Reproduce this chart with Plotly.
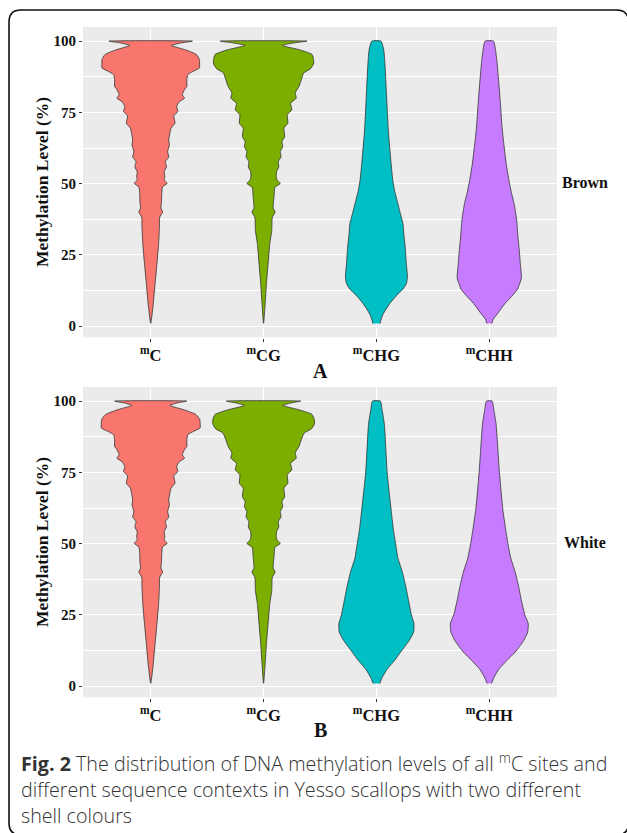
import plotly.graph_objects as go

W, H = 627, 833

# ---------------- data ----------------
categories = ["mC", "mCG", "mCHG", "mCHH"]
tick_text = ["<sup>m</sup>C", "<sup>m</sup>CG", "<sup>m</sup>CHG", "<sup>m</sup>CHH"]
colors = ["#F8766D", "#7CAE00", "#00BFC4", "#C77CFF"]
y_ticks = [0, 25, 50, 75, 100]
y_minor = [12.5, 37.5, 62.5, 87.5]
panel_labels = ["A", "B"]
strip_labels = ["Brown", "White"]
y_title = "Methylation Level (%)"
caption_lines = [
    "<b>Fig. 2</b> The distribution of DNA methylation levels of all <sup>m</sup>C sites and",
    "different sequence contexts in Yesso scallops with two different",
    "shell colours",
]

# violin outlines: methylation level (%) and violin width (category units)
# Panel A (Brown)
level_mc_a = [1, 7.8, 14.8, 21.8, 28.9, 34.7, 38.3, 40, 41.5, 43, 46.5, 48.9, 50.1, 51.3, 52.4,
              54.2, 55.9, 57.7, 59.4, 61.2, 63.6, 65.3, 67.7, 69.5, 71.2, 73.8, 75.3, 77.1, 78.8,
              80, 81.2, 83, 84.2, 86.5, 88.3, 89.4, 90.6, 92, 93.5, 95.3, 96.9, 98.5, 99.4, 100]
width_mc_a = [0, 0.045, 0.077, 0.11, 0.14, 0.155, 0.16, 0.21, 0.18, 0.19, 0.195, 0.21, 0.29, 0.24,
              0.25, 0.24, 0.28, 0.26, 0.32, 0.30, 0.33, 0.32, 0.34, 0.36, 0.43, 0.41, 0.48, 0.46,
              0.51, 0.60, 0.56, 0.60, 0.64, 0.64, 0.66, 0.75, 0.865, 0.865, 0.865, 0.81, 0.62,
              0.37, 0.55, 0.74]
level_mcg_a = [1, 7.8, 14.8, 21.8, 28.9, 33.6, 38.3, 40, 41.5, 45.4, 48.7, 50.1, 51.3, 52.4, 54.2,
               55.9, 57.7, 59.4, 61.2, 63, 64.7, 66.5, 69.5, 71.2, 74.2, 75.9, 78.2, 80, 81.8, 84.2,
               86.5, 88.8, 90.3, 92, 93.5, 95.3, 96.9, 98.5, 99.4, 100]
width_mcg_a = [0, 0.027, 0.05, 0.08, 0.11, 0.145, 0.155, 0.205, 0.17, 0.185, 0.20, 0.295, 0.24,
               0.225, 0.23, 0.27, 0.26, 0.31, 0.295, 0.34, 0.325, 0.375, 0.36, 0.43, 0.42, 0.50,
               0.48, 0.58, 0.56, 0.63, 0.67, 0.71, 0.83, 0.886, 0.886, 0.86, 0.65, 0.33, 0.55, 0.77]
level_chg_a = [1, 2.5, 4.3, 7.8, 11.3, 13, 14.9, 17.2, 21.9, 27.8, 31.3, 36, 38.3, 43, 47.7, 51.2,
               57.1, 68.8, 80.6, 92.3, 96.9, 100]
width_chg_a = [0.065, 0.085, 0.12, 0.23, 0.38, 0.47, 0.53, 0.55, 0.53, 0.51, 0.49, 0.47, 0.44,
               0.38, 0.32, 0.29, 0.26, 0.21, 0.18, 0.15, 0.13, 0.08]
level_chh_a = [1, 2.5, 4, 8, 11, 13, 15, 17, 22, 27, 31, 36, 38, 43, 47, 51, 57, 69, 80, 92, 97, 100]
width_chh_a = [0.045, 0.07, 0.13, 0.28, 0.42, 0.50, 0.54, 0.57, 0.55, 0.53, 0.51, 0.49, 0.48,
               0.44, 0.39, 0.35, 0.30, 0.23, 0.19, 0.14, 0.11, 0.074]

# Panel B (White)
level_mc_b = [1, 7.8, 14.8, 21.8, 28.9, 34.7, 38.3, 40, 41.5, 43, 46.5, 48.9, 50.1, 51.3, 52.4,
              54.2, 55.9, 57.7, 59.4, 61.2, 63.6, 65.3, 67.7, 69.5, 71.2, 73.8, 75.3, 77.1, 78.8,
              80, 81.2, 83, 84.2, 86.5, 88.3, 89.4, 90.6, 92, 93.5, 95.3, 96.9, 98.5, 99.4, 100]
width_mc_b = [0, 0.045, 0.077, 0.11, 0.14, 0.155, 0.16, 0.21, 0.18, 0.19, 0.195, 0.21, 0.29, 0.24,
              0.25, 0.24, 0.28, 0.26, 0.32, 0.30, 0.33, 0.32, 0.34, 0.36, 0.43, 0.41, 0.48, 0.46,
              0.51, 0.60, 0.56, 0.60, 0.64, 0.64, 0.66, 0.76, 0.876, 0.876, 0.87, 0.80, 0.60,
              0.34, 0.48, 0.64]
level_mcg_b = [1, 7.8, 14.8, 21.8, 28.9, 33.6, 38.3, 40, 41.5, 45.4, 48.7, 50.1, 51.3, 52.4, 54.2,
               55.9, 57.7, 59.4, 61.2, 63, 64.7, 66.5, 69.5, 71.2, 74.2, 75.9, 78.2, 80, 81.8, 84.2,
               86.5, 88.8, 90.3, 92, 93.5, 95.3, 96.9, 98.5, 99.4, 100]
width_mcg_b = [0, 0.027, 0.05, 0.08, 0.11, 0.145, 0.155, 0.205, 0.17, 0.185, 0.20, 0.295, 0.24,
               0.225, 0.23, 0.27, 0.26, 0.31, 0.295, 0.34, 0.325, 0.375, 0.36, 0.43, 0.42, 0.50,
               0.48, 0.58, 0.56, 0.63, 0.67, 0.72, 0.85, 0.90, 0.90, 0.86, 0.64, 0.34, 0.50, 0.66]
level_chg_b = [1, 3, 6, 9, 12, 16, 19, 22, 25, 30, 35, 40, 45, 50, 55, 62, 75, 92, 97, 100]
width_chg_b = [0.06, 0.10, 0.19, 0.32, 0.43, 0.58, 0.66, 0.665, 0.62, 0.57, 0.52, 0.46, 0.38,
               0.34, 0.30, 0.26, 0.19, 0.14, 0.10, 0.07]
level_chh_b = [1, 3, 6, 9, 12, 16, 19, 22, 25, 30, 35, 40, 45, 50, 55, 62, 75, 92, 97, 100]
width_chh_b = [0.04, 0.08, 0.17, 0.31, 0.46, 0.61, 0.68, 0.69, 0.63, 0.57, 0.52, 0.46, 0.38,
               0.33, 0.29, 0.24, 0.18, 0.12, 0.08, 0.05]

panel_levels = [[level_mc_a, level_mcg_a, level_chg_a, level_chh_a],
                [level_mc_b, level_mcg_b, level_chg_b, level_chh_b]]
panel_widths = [[width_mc_a, width_mcg_a, width_chg_a, width_chh_a],
                [width_mc_b, width_mcg_b, width_chg_b, width_chh_b]]

# ---------------- layout helpers ----------------
def fx(px):
    return px / W

def fy(py):
    return 1 - py / H

SERIF = "Liberation Serif, Times New Roman, serif"
SANS = "Open Sans, Noto Sans, sans-serif"

x_dom = [fx(83), fx(557)]
y_doms = [[fy(337.5), fy(27)], [fy(697.5), fy(387)]]

fig = go.Figure()

for p in range(2):
    xa = "x" if p == 0 else "x2"
    ya = "y" if p == 0 else "y2"
    for i in range(4):
        lev = panel_levels[p][i]
        wid = panel_widths[p][i]
        c = i + 1
        xs = [c - w / 2 for w in wid] + [c + w / 2 for w in wid[::-1]]
        ys = list(lev) + list(lev[::-1])
        fig.add_trace(go.Scatter(
            x=xs, y=ys, mode="lines", fill="toself", fillcolor=colors[i],
            line=dict(color="#333333", width=0.8, shape="spline", smoothing=0.5),
            xaxis=xa, yaxis=ya, showlegend=False, hoverinfo="skip", name=categories[i]))

xaxis_common = dict(
    range=[0.4, 4.6], tickmode="array", tickvals=[1, 2, 3, 4], ticktext=tick_text,
    showgrid=True, gridcolor="white", gridwidth=1.3, zeroline=False, showline=False,
    ticks="outside", ticklen=3, tickwidth=1, tickcolor="#333333",
    tickfont=dict(family=SERIF, size=16.5, color="#111111", weight="bold"),
    domain=x_dom, fixedrange=True)
yaxis_common = dict(
    range=[-3.95, 104.95], tickmode="array", tickvals=y_ticks,
    showgrid=True, gridcolor="white", gridwidth=1.3, zeroline=False, showline=False,
    ticks="outside", ticklen=3, tickwidth=1, tickcolor="#333333",
    tickfont=dict(family=SERIF, size=15, color="#111111", weight="bold"),
    minor=dict(tickmode="array", tickvals=y_minor, showgrid=True, gridcolor="white",
               gridwidth=0.6, ticks=""),
    fixedrange=True)

fig.update_layout(
    width=W, height=H, margin=dict(l=0, r=0, t=0, b=0),
    paper_bgcolor="white", plot_bgcolor="#EBEBEB",
    xaxis=dict(xaxis_common, anchor="y"),
    yaxis=dict(yaxis_common, domain=y_doms[0], anchor="x"),
    xaxis2=dict(xaxis_common, anchor="y2"),
    yaxis2=dict(yaxis_common, domain=y_doms[1], anchor="x2"),
)

annotations = []
centers_y = [182, 542]
label_y = [371, 730]
for p in range(2):
    annotations.append(dict(x=fx(42), y=fy(centers_y[p]), xref="paper", yref="paper",
                            text=y_title, textangle=-90, showarrow=False,
                            font=dict(family=SERIF, size=17.5, color="#111111", weight="bold"),
                            xanchor="center", yanchor="middle"))
    annotations.append(dict(x=fx(585), y=fy(centers_y[p]), xref="paper", yref="paper",
                            text=strip_labels[p], showarrow=False,
                            font=dict(family=SERIF, size=16, color="#111111", weight="bold"),
                            xanchor="center", yanchor="middle"))
    annotations.append(dict(x=fx(320), y=fy(label_y[p]), xref="paper", yref="paper",
                            text=panel_labels[p], showarrow=False,
                            font=dict(family=SERIF, size=20, color="#111111", weight="bold"),
                            xanchor="center", yanchor="middle"))

cap_y = [762, 789, 815]
for k, line in enumerate(caption_lines):
    annotations.append(dict(x=fx(19), y=fy(cap_y[k]), xref="paper", yref="paper",
                            text=line, showarrow=False, align="left",
                            font=dict(family=SANS, size=19.7, color="#333333", weight=300),
                            xanchor="left", yanchor="middle"))
fig.update_layout(annotations=annotations)

# rounded outer frame
L, T, R, B, r = 9, 10, 628.5, 835, 12
path = (f"M {fx(L + r)} {fy(T)} L {fx(R - r)} {fy(T)} Q {fx(R)} {fy(T)} {fx(R)} {fy(T + r)} "
        f"L {fx(R)} {fy(B - r)} Q {fx(R)} {fy(B)} {fx(R - r)} {fy(B)} "
        f"L {fx(L + r)} {fy(B)} Q {fx(L)} {fy(B)} {fx(L)} {fy(B - r)} "
        f"L {fx(L)} {fy(T + r)} Q {fx(L)} {fy(T)} {fx(L + r)} {fy(T)} Z")
fig.add_shape(type="path", path=path, xref="paper", yref="paper",
              line=dict(color="#111111", width=1.6), fillcolor="rgba(0,0,0,0)", layer="above")

fig.write_html("out.html", config={"displayModeBar": False},
               post_script="document.body.style.margin='0px';document.body.style.overflow='hidden';")
